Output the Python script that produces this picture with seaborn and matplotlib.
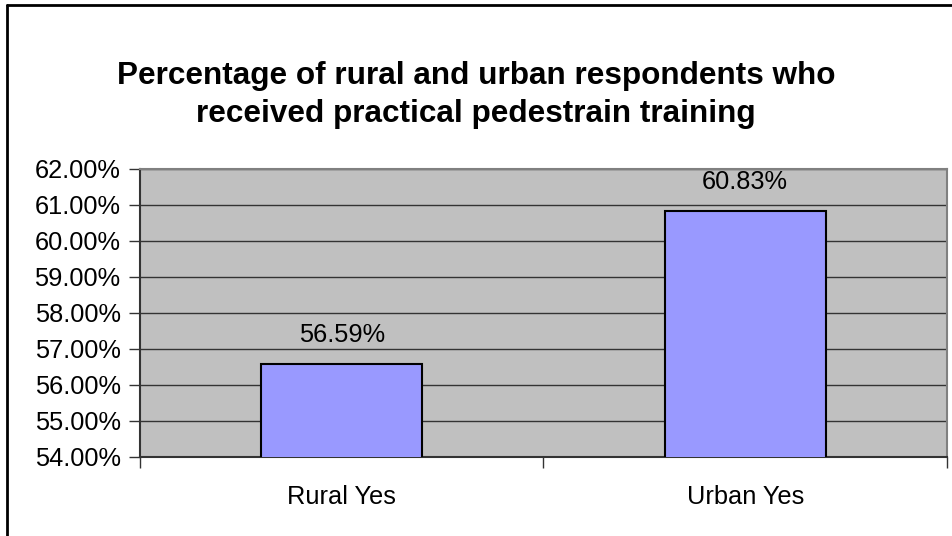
import matplotlib
matplotlib.use("Agg")
import matplotlib.pyplot as plt
import seaborn as sns
import pandas as pd
from matplotlib.lines import Line2D
from matplotlib.ticker import FixedLocator

categories = ["Rural Yes", "Urban Yes"]
values = [56.59, 60.83]
yticks = [54, 55, 56, 57, 58, 59, 60, 61, 62]

sns.set_style("white")
plt.rcParams['font.family'] = ['Liberation Sans', 'DejaVu Sans']
plt.rcParams['text.color'] = 'black'
plt.rcParams['xtick.color'] = 'black'
plt.rcParams['ytick.color'] = 'black'

df = pd.DataFrame({"cat": categories, "val": values})

fig = plt.figure(figsize=(9.53, 5.36), dpi=100)
ax = fig.add_axes([140/953, 79/536, 807/953, 288/536])
ax.set_facecolor("#C0C0C0")

sns.barplot(data=df, x="cat", y="val", ax=ax, color="#9999FF", saturation=1,
            width=0.4, edgecolor="black", linewidth=1.5, zorder=3)

ax.set_ylim(54, 62)
ax.set_xlim(-0.5, 1.5)
ax.set_yticks(yticks)
ax.set_yticklabels([f"{v:.2f}%" for v in yticks], fontsize=18.3, color="black")
ax.yaxis.grid(True, color="#333333", linewidth=1, zorder=0)
ax.set_axisbelow(True)
ax.set_xlabel("")
ax.set_ylabel("")
ax.tick_params(axis="y", length=8, width=1, color="#333333", direction="out", left=True, pad=6)
ax.tick_params(axis="x", which="major", length=0, pad=20, labelsize=18.3, labelcolor="black")
ax.xaxis.set_minor_locator(FixedLocator([-0.5, 0.5, 1.5]))
ax.tick_params(axis="x", which="minor", length=8, width=1, color="#333333", bottom=True)

for s in ["top", "right"]:
    ax.spines[s].set_color("#808080")
    ax.spines[s].set_linewidth(1.5)
for s in ["left", "bottom"]:
    ax.spines[s].set_color("#333333")
    ax.spines[s].set_linewidth(1.5)

for i, v in enumerate(values):
    ax.annotate(f"{v:.2f}%", (i, v), xytext=(0, 12), textcoords="offset points",
                ha="center", va="bottom", fontsize=18.3, color="black")

fig.text(476/953, 1 - 95/536, "Percentage of rural and urban respondents who\nreceived practical pedestrain training",
         ha="center", va="center", fontsize=22.7, fontweight="bold", linespacing=1.35, color="black")

fig.add_artist(Line2D([7/953, 1], [1 - 5/536, 1 - 5/536], transform=fig.transFigure, color="black", linewidth=2))
fig.add_artist(Line2D([7/953, 7/953], [0, 1 - 5/536], transform=fig.transFigure, color="black", linewidth=2))

fig.savefig("out.png", dpi=100)
